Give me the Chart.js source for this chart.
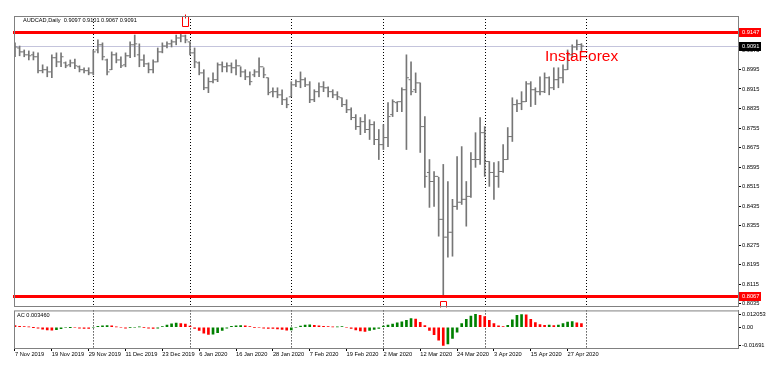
<!DOCTYPE html>
<html>
<head>
<meta charset="utf-8">
<title>AUDCAD Daily</title>
<script src="https://cdn.jsdelivr.net/npm/chart.js@4.4.1/dist/chart.umd.min.js"></script>
<style>
  html, body { margin: 0; padding: 0; background: #fff; }
  #wrap { position: relative; width: 767px; height: 370px; overflow: hidden; }
  #price { position: absolute; left: 0; top: 0; }
  #ac { position: absolute; left: 0; top: 306px; }
</style>
</head>
<body>
<div id="wrap">
  <canvas id="price" width="767" height="311"></canvas>
  <canvas id="ac" width="767" height="64"></canvas>
</div>
<script>
// daily bars, 7 Nov 2019 .. 30 Apr 2020 (index = trading day)
const opens = [
  0.9067,0.9083,0.9067,0.9055,0.9055,0.9047,0.8990,0.8994,0.8985,0.9043,
  0.9026,0.9022,0.9014,0.9022,0.9006,0.8994,0.8990,0.8981,0.9075,0.9096,
  0.9034,0.8994,0.9055,0.9034,0.9014,0.9051,0.9096,0.9055,0.9034,0.9018,
  0.8994,0.9026,0.9067,0.9091,0.9100,0.9108,0.9124,0.9132,0.9108,0.9063,
  0.9022,0.8981,0.8920,0.8945,0.8953,0.9014,0.9006,0.9010,0.9002,0.9010,
  0.8985,0.8965,0.8973,0.8985,0.9006,0.8961,0.8904,0.8904,0.8891,0.8871,
  0.8883,0.8932,0.8945,0.8953,0.8932,0.8871,0.8904,0.8924,0.8920,0.8904,
  0.8891,0.8879,0.8851,0.8830,0.8798,0.8761,0.8781,0.8749,0.8769,0.8708,
  0.8687,0.8716,0.8810,0.8859,0.8863,0.8912,0.8953,0.8912,0.8940,0.8761,
  0.8573,0.8536,0.8557,0.8381,0.8308,0.8328,0.8434,0.8451,0.8463,0.8475,
  0.8626,0.8626,0.8736,0.8618,0.8573,0.8557,0.8577,0.8626,0.8720,0.8851,
  0.8855,0.8863,0.8936,0.8912,0.8904,0.8904,0.8961,0.8920,0.8953,0.8961,
  0.8994,0.9055,0.9087,0.9097
];
const highs = [
  0.9104,0.9091,0.9075,0.9071,0.9067,0.9063,0.9014,0.9006,0.9055,0.9063,
  0.9063,0.9026,0.9034,0.9038,0.9010,0.9002,0.9002,0.9075,0.9116,0.9104,
  0.9038,0.9067,0.9063,0.9047,0.9063,0.9108,0.9136,0.9100,0.9055,0.9022,
  0.9034,0.9083,0.9104,0.9108,0.9116,0.9136,0.9147,0.9136,0.9108,0.9083,
  0.9026,0.8994,0.8961,0.8981,0.9022,0.9026,0.9022,0.9022,0.9034,0.9006,
  0.8994,0.8985,0.8994,0.9043,0.9002,0.8961,0.8920,0.8920,0.8912,0.8879,
  0.8945,0.8953,0.8985,0.8961,0.8945,0.8912,0.8940,0.8945,0.8924,0.8912,
  0.8904,0.8879,0.8871,0.8838,0.8810,0.8798,0.8810,0.8789,0.8781,0.8749,
  0.8769,0.8859,0.8871,0.8863,0.8920,0.9055,0.9026,0.8981,0.8940,0.8802,
  0.8626,0.8577,0.8553,0.8606,0.8536,0.8463,0.8638,0.8679,0.8536,0.8655,
  0.8736,0.8798,0.8761,0.8618,0.8614,0.8618,0.8687,0.8757,0.8879,0.8871,
  0.8904,0.8945,0.8945,0.8920,0.8965,0.8981,0.8965,0.9002,0.9002,0.9014,
  0.9075,0.9096,0.9116,0.9101
];
const lows = [
  0.9047,0.9051,0.9047,0.9034,0.9034,0.8981,0.8981,0.8965,0.8961,0.9006,
  0.9006,0.9002,0.9006,0.8998,0.8985,0.8981,0.8973,0.8973,0.9063,0.9034,
  0.8973,0.8994,0.9022,0.9002,0.9006,0.9043,0.9047,0.9006,0.9006,0.8981,
  0.8981,0.9026,0.9063,0.9083,0.9087,0.9096,0.9108,0.9104,0.9055,0.9002,
  0.8973,0.8912,0.8900,0.8940,0.8945,0.8985,0.8985,0.8981,0.8973,0.8965,
  0.8953,0.8932,0.8965,0.8965,0.8961,0.8891,0.8883,0.8879,0.8851,0.8838,
  0.8883,0.8924,0.8920,0.8924,0.8859,0.8863,0.8883,0.8904,0.8883,0.8879,
  0.8871,0.8843,0.8818,0.8789,0.8749,0.8728,0.8736,0.8708,0.8687,0.8626,
  0.8667,0.8679,0.8802,0.8822,0.8822,0.8667,0.8891,0.8900,0.8655,0.8512,
  0.8430,0.8434,0.8312,0.8067,0.8226,0.8230,0.8422,0.8442,0.8353,0.8471,
  0.8594,0.8606,0.8557,0.8516,0.8463,0.8512,0.8573,0.8626,0.8700,0.8822,
  0.8830,0.8863,0.8843,0.8851,0.8891,0.8900,0.8891,0.8912,0.8920,0.8940,
  0.8994,0.9043,0.9075,0.9067
];
const closes = [
  0.9087,0.9067,0.9055,0.9051,0.9047,0.8990,0.8994,0.8985,0.9043,0.9026,
  0.9047,0.9010,0.9022,0.9010,0.8994,0.8990,0.8981,0.9067,0.9096,0.9047,
  0.8985,0.9055,0.9034,0.9010,0.9051,0.9096,0.9100,0.9034,0.9018,0.8994,
  0.9026,0.9067,0.9091,0.9100,0.9108,0.9124,0.9132,0.9116,0.9063,0.9026,
  0.8981,0.8920,0.8945,0.8953,0.9014,0.9006,0.9010,0.9002,0.9010,0.8985,
  0.8965,0.8945,0.8985,0.9006,0.8973,0.8900,0.8904,0.8891,0.8871,0.8851,
  0.8932,0.8945,0.8953,0.8932,0.8871,0.8904,0.8924,0.8920,0.8904,0.8891,
  0.8883,0.8851,0.8830,0.8798,0.8761,0.8781,0.8749,0.8769,0.8708,0.8687,
  0.8716,0.8802,0.8863,0.8863,0.8912,0.8961,0.8904,0.8940,0.8761,0.8557,
  0.8536,0.8557,0.8381,0.8308,0.8328,0.8434,0.8451,0.8463,0.8475,0.8626,
  0.8626,0.8736,0.8618,0.8573,0.8557,0.8577,0.8626,0.8720,0.8851,0.8855,
  0.8863,0.8936,0.8912,0.8904,0.8904,0.8961,0.8920,0.8953,0.8961,0.8994,
  0.9055,0.9087,0.9097,0.9091
];
// Accelerator oscillator
const acValues = [
  0.0015,0.0008,0.0005,0.0002,-0.0002,-0.0008,-0.0018,-0.0025,-0.0028,-0.0022,
  -0.0013,-0.0005,-0.0002,-0.0005,-0.0008,-0.0010,-0.0012,-0.0005,0.0008,0.0013,
  0.0015,0.0012,0.0003,-0.0005,-0.0008,-0.0003,0.0000,0.0003,-0.0003,-0.0008,
  -0.0012,-0.0009,0.0005,0.0020,0.0032,0.0038,0.0035,0.0030,0.0010,-0.0010,
  -0.0030,-0.0055,-0.0068,-0.0065,-0.0050,-0.0030,-0.0008,0.0008,0.0013,0.0015,
  0.0012,0.0005,-0.0003,-0.0005,-0.0008,-0.0010,-0.0012,-0.0015,-0.0020,-0.0028,
  -0.0025,-0.0005,0.0010,0.0020,0.0023,0.0018,0.0012,0.0008,0.0005,0.0002,
  0.0003,0.0005,0.0000,-0.0010,-0.0025,-0.0035,-0.0038,-0.0030,-0.0020,-0.0010,
  0.0010,0.0020,0.0030,0.0040,0.0050,0.0065,0.0080,0.0075,0.0045,0.0015,
  -0.0030,-0.0070,-0.0120,-0.01691,-0.0155,-0.0105,-0.0045,0.0034,0.0074,0.0105,
  0.012053,0.0110,0.0100,0.0065,0.0034,0.0012,0.0005,0.0018,0.0070,0.0110,
  0.0118,0.0115,0.0074,0.0043,0.0025,0.0018,0.0020,0.0016,0.0020,0.0034,
  0.0048,0.0052,0.0042,0.003460
];

const dateTickIdx = [0, 8, 16, 24, 32, 40, 48, 56, 64, 72, 80, 88, 96, 104, 112, 120];
const dateLabels = ['7 Nov 2019', '19 Nov 2019', '29 Nov 2019', '11 Dec 2019', '23 Dec 2019',
  '6 Jan 2020', '16 Jan 2020', '28 Jan 2020', '7 Feb 2020', '19 Feb 2020', '2 Mar 2020',
  '12 Mar 2020', '24 Mar 2020', '3 Apr 2020', '15 Apr 2020', '27 Apr 2020'];
const separators = [17, 38, 60, 80, 102, 124]; // first bar of each month
const priceTicks = [0.8035, 0.8115, 0.8195, 0.8275, 0.8355, 0.8435, 0.8515, 0.8595,
  0.8675, 0.8755, 0.8835, 0.8915, 0.8995, 0.9075];
const acTicks = [0.012053, 0, -0.01691];
const acTickLabels = ['0.012053', '0.00', '-0.01691'];
const levels = [0.9147, 0.8067];
const bid = 0.9091;
const title = 'AUDCAD,Daily  0.9097 0.9101 0.9067 0.9091';
const acTitle = 'AC 0.003460';

const FONT = '"Liberation Sans", Arial, sans-serif';
const SMALL = 5.7;
const FRAME = '#808080';
const BAR = '#767676';
const xMin = -0.217, xMax = 157.0;

function drawSeparators(chart) {
    const ctx = chart.ctx, a = chart.chartArea, x = chart.scales.x;
    ctx.save();
    ctx.strokeStyle = '#000';
    ctx.lineWidth = 1;
    ctx.setLineDash([1, 2]);
    for (const i of separators) {
        const px = Math.round(x.getPixelForValue(i)) + 0.5;
        ctx.beginPath();
        ctx.moveTo(px, a.top);
        ctx.lineTo(px, a.bottom);
        ctx.stroke();
    }
    ctx.restore();
}

function drawFrame(chart) {
    const ctx = chart.ctx, a = chart.chartArea;
    ctx.save();
    ctx.strokeStyle = FRAME;
    ctx.lineWidth = 1;
    ctx.strokeRect(a.left + 0.5, a.top + 0.5, a.right - a.left, a.bottom - a.top);
    ctx.restore();
}

function axisBox(chart, value, bg) {
    const ctx = chart.ctx, y = Math.round(chart.scales.y.getPixelForValue(value));
    const left = chart.chartArea.right + 1;
    ctx.fillStyle = bg;
    ctx.fillRect(left, y - 4, 22, 9);
    ctx.fillStyle = '#fff';
    ctx.font = SMALL + 'px ' + FONT;
    ctx.textBaseline = 'middle';
    ctx.textAlign = 'left';
    ctx.fillText(value.toFixed(4), left + 3, y + 0.5);
}

const priceDecor = {
    id: 'priceDecor',
    beforeDatasetsDraw(chart) {
        const ctx = chart.ctx, a = chart.chartArea;
        const by = Math.round(chart.scales.y.getPixelForValue(bid)) + 0.5;
        ctx.save();
        ctx.strokeStyle = '#c4c4dc';
        ctx.lineWidth = 1;
        ctx.beginPath();
        ctx.moveTo(a.left, by);
        ctx.lineTo(a.right, by);
        ctx.stroke();
        ctx.restore();
        drawSeparators(chart);
    },
    afterDatasetsDraw(chart) {
        const ctx = chart.ctx, a = chart.chartArea, xs = chart.scales.x, ys = chart.scales.y;
        ctx.save();
        // horizontal levels
        ctx.strokeStyle = '#ff0000';
        ctx.lineWidth = 3;
        for (const lv of levels) {
            const py = Math.round(ys.getPixelForValue(lv)) + 0.5;
            ctx.beginPath();
            ctx.moveTo(a.left - 1, py);
            ctx.lineTo(a.right, py);
            ctx.stroke();
        }
        // marker above the December top
        ctx.lineWidth = 1;
        const tx = Math.round(xs.getPixelForValue(37)) + 0.5;
        const ty = Math.round(ys.getPixelForValue(highs[37])) - 18.5;
        ctx.beginPath();
        ctx.moveTo(tx - 5, ty);
        ctx.lineTo(tx - 3, ty);
        ctx.lineTo(tx - 3, ty + 10);
        ctx.lineTo(tx + 3, ty + 10);
        ctx.lineTo(tx + 3, ty);
        ctx.lineTo(tx + 5, ty);
        ctx.stroke();
        ctx.beginPath();
        ctx.moveTo(tx, ty - 2);
        ctx.lineTo(tx, ty + 2);
        ctx.stroke();
        // marker under the March low
        const bx = Math.round(xs.getPixelForValue(93)) + 0.5;
        const byy = Math.round(ys.getPixelForValue(lows[93])) + 5.5;
        ctx.beginPath();
        ctx.moveTo(bx - 3, byy + 6);
        ctx.lineTo(bx - 3, byy);
        ctx.lineTo(bx + 3, byy);
        ctx.lineTo(bx + 3, byy + 6);
        ctx.stroke();
        ctx.restore();
        drawFrame(chart);
    },
    afterDraw(chart) {
        const ctx = chart.ctx, a = chart.chartArea;
        ctx.save();
        ctx.fillStyle = '#000';
        ctx.font = '5.6px ' + FONT;
        ctx.textBaseline = 'middle';
        ctx.fillText(title, a.left + 9, a.top + 4.5);
        ctx.fillStyle = '#ff0000';
        ctx.font = '15.5px ' + FONT;
        ctx.textBaseline = 'alphabetic';
        ctx.fillText('InstaForex', 545, 61);
        axisBox(chart, levels[0], '#ff0000');
        axisBox(chart, levels[1], '#ff0000');
        axisBox(chart, bid, '#000000');
        ctx.restore();
    }
};

const acDecor = {
    id: 'acDecor',
    beforeDatasetsDraw(chart) {
        drawSeparators(chart);
    },
    afterDatasetsDraw(chart) {
        const ctx = chart.ctx, a = chart.chartArea;
        drawFrame(chart);
        ctx.save();
        ctx.fillStyle = '#000';
        ctx.font = '5.6px ' + FONT;
        ctx.textBaseline = 'middle';
        ctx.fillText(acTitle, a.left + 3, a.top + 5);
        ctx.restore();
    }
};

const axisFont = { family: FONT, size: SMALL };

new Chart(document.getElementById('price'), {
    type: 'bar',
    data: {
        datasets: [{
            data: highs.map((h, k) => ({ x: k, y: [lows[k], h] })),
            backgroundColor: BAR,
            barThickness: 1
        }, {
            type: 'line',
            data: opens.map((v, k) => ({ x: k - 0.3, y: v })),
            showLine: false,
            pointStyle: 'line',
            pointRadius: 1.1,
            pointBorderWidth: 1,
            borderColor: BAR
        }, {
            type: 'line',
            data: closes.map((v, k) => ({ x: k + 0.3, y: v })),
            showLine: false,
            pointStyle: 'line',
            pointRadius: 1.1,
            pointBorderWidth: 1,
            borderColor: BAR
        }]
    },
    options: {
        responsive: false,
        animation: false,
        events: [],
        layout: { padding: { left: 14, top: 16, right: 0, bottom: 4 } },
        plugins: { legend: { display: false }, tooltip: { enabled: false } },
        scales: {
            x: { type: 'linear', display: false, min: xMin, max: xMax, offset: false },
            y: {
                position: 'right',
                min: 0.8026,
                max: 0.9214,
                afterFit: s => { s.width = 29; },
                afterBuildTicks: s => { s.ticks = priceTicks.map(v => ({ value: v })); },
                ticks: { callback: v => v.toFixed(4), font: axisFont, color: '#000', padding: 1, autoSkip: false },
                grid: { drawOnChartArea: false, tickLength: 3, color: '#000' },
                border: { color: FRAME }
            }
        }
    },
    plugins: [priceDecor]
});

const acColors = acValues.map((v, k) => (k > 0 && v > acValues[k - 1]) ? '#008000' : '#ff0000');

new Chart(document.getElementById('ac'), {
    type: 'bar',
    data: {
        datasets: [{
            data: acValues.map((v, k) => ({ x: k, y: v })),
            backgroundColor: acColors,
            barThickness: 2
        }]
    },
    options: {
        responsive: false,
        animation: false,
        events: [],
        layout: { padding: { left: 14, top: 4, right: 0, bottom: 0 } },
        plugins: { legend: { display: false }, tooltip: { enabled: false } },
        scales: {
            x: {
                type: 'linear', min: xMin, max: xMax, offset: false,
                afterFit: s => { s.height = 22; },
                afterBuildTicks: s => { s.ticks = dateTickIdx.map(v => ({ value: v })); },
                ticks: {
                    callback: (v, i) => dateLabels[i],
                    align: 'start', maxRotation: 0, autoSkip: false,
                    font: axisFont, color: '#000', padding: 0
                },
                grid: { drawOnChartArea: false, tickLength: 3, color: '#000', offset: false },
                border: { color: FRAME }
            },
            y: {
                position: 'right',
                min: -0.0194,
                max: 0.0157,
                afterFit: s => { s.width = 29; },
                afterBuildTicks: s => { s.ticks = acTicks.map(v => ({ value: v })); },
                ticks: { callback: (v, i) => acTickLabels[i], font: axisFont, color: '#000', padding: 1, autoSkip: false },
                grid: { drawOnChartArea: false, tickLength: 3, color: '#000' },
                border: { color: FRAME }
            }
        }
    },
    plugins: [acDecor]
});
</script>
</body>
</html>
